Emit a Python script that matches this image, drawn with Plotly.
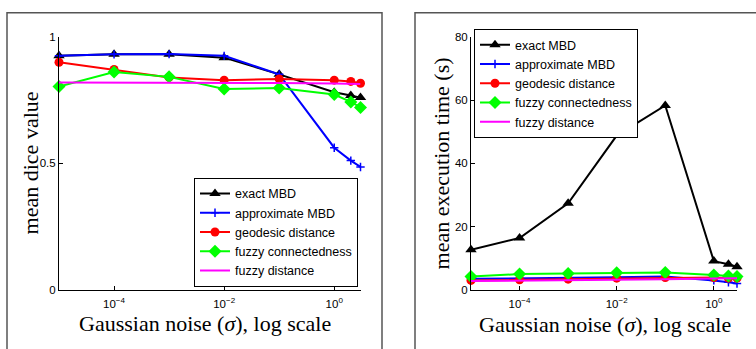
import plotly.graph_objects as go
import math

# ---- data ----
noise = [1e-5, 1e-4, 1e-3, 1e-2, 1e-1, 1, 2, 3]
series_names = ["exact MBD", "approximate MBD", "geodesic distance",
                "fuzzy connectedness", "fuzzy distance"]

dice_exact = [0.925, 0.931, 0.931, 0.918, 0.852, 0.781, 0.768, 0.760]
dice_approx = [0.925, 0.931, 0.932, 0.925, 0.852, 0.562, 0.511, 0.486]
dice_geodesic = [0.900, 0.871, 0.840, 0.829, 0.834, 0.829, 0.824, 0.817]
dice_fuzzyconn = [0.804, 0.861, 0.842, 0.794, 0.798, 0.772, 0.743, 0.721]
dice_fuzzydist = [0.820, 0.820, 0.820, 0.819, 0.818, 0.816, 0.815, 0.814]

time_exact = [12.7, 16.4, 27.4, 48.8, 58.3, 9.1, 8.1, 7.3]
time_approx = [3.5, 3.6, 3.8, 4.0, 4.2, 3.0, 2.4, 2.0]
time_geodesic = [3.0, 3.2, 3.4, 3.7, 3.9, 3.9, 3.7, 3.7]
time_fuzzyconn = [4.2, 5.0, 5.2, 5.4, 5.5, 4.7, 4.4, 4.2]
time_fuzzydist = [2.8, 2.9, 3.0, 3.1, 3.4, 3.6, 3.6, 3.7]

dice_tickvals = [0, 0.5, 1]
dice_ticktext = ["0", "0.5", "1"]
time_tickvals = [0, 20, 40, 60, 80]
x_tickvals = [1e-4, 1e-2, 1]
x_ticktext = ["10<sup>−4</sup>", "10<sup>−2</sup>", "10<sup>0</sup>"]

# ---- styles ----
W, H = 756, 349
styles = [
    dict(color="#000000", symbol="triangle-up", size=10, mode="lines+markers"),
    dict(color="#0000ff", symbol="cross-thin", size=6, mode="lines+markers"),
    dict(color="#ff0000", symbol="circle", size=9, mode="lines+markers"),
    dict(color="#00ff00", symbol="diamond", size=10, mode="lines+markers"),
    dict(color="#ff00ff", symbol="circle", size=1, mode="lines"),
]

fig = go.Figure()

def add_panel(ys, xa, ya, legend):
    for name, y, st in zip(series_names, ys, styles):
        marker = dict(color=st["color"], symbol=st["symbol"], size=st["size"],
                      line=dict(color=st["color"], width=1.5 if st["symbol"] == "cross-thin" else 0))
        fig.add_trace(go.Scatter(
            x=noise, y=y, name=name, mode=st["mode"], xaxis=xa, yaxis=ya,
            line=dict(color=st["color"], width=2), marker=marker,
            legend=legend, cliponaxis=False))

add_panel([dice_exact, dice_approx, dice_geodesic, dice_fuzzyconn, dice_fuzzydist],
          "x", "y", "legend")
add_panel([time_exact, time_approx, time_geodesic, time_fuzzyconn, time_fuzzydist],
          "x2", "y2", "legend2")

tickfont = dict(family="Liberation Sans, Arial, sans-serif", size=11.5, color="black")
ydom = [(H - 294) / H, (H - 32) / H]
xcommon = dict(type="log", range=[-5, math.log10(3)], tickvals=x_tickvals,
               ticktext=x_ticktext, ticks="inside", ticklen=4, tickcolor="black",
               showline=True, linecolor="black", linewidth=1, showgrid=False,
               zeroline=False, tickfont=tickfont, ticklabelstandoff=3)
ycommon = dict(ticks="inside", ticklen=4, tickcolor="black", showline=True,
               linecolor="black", linewidth=1, showgrid=False, zeroline=False,
               tickfont=tickfont, domain=ydom)

legfont = dict(family="Liberation Sans, Arial, sans-serif", size=12.5, color="black")
fig.update_layout(
    width=W, height=H, autosize=False,
    margin=dict(l=0, r=0, t=0, b=0),
    paper_bgcolor="white", plot_bgcolor="white",
    showlegend=True,
    xaxis=dict(domain=[59 / W, 360.5 / W], anchor="y", **xcommon),
    yaxis=dict(range=[0, 1], tickvals=dice_tickvals, ticktext=dice_ticktext,
               anchor="x", **ycommon),
    xaxis2=dict(domain=[471 / W, 737 / W], anchor="y2", **xcommon),
    yaxis2=dict(range=[0, 80], tickvals=time_tickvals, anchor="x2", **ycommon),
    legend=dict(x=194 / W, y=(H - 178) / H, xanchor="left", yanchor="top",
                bgcolor="white", bordercolor="black", borderwidth=1,
                font=legfont, tracegroupgap=0, itemwidth=30),
    legend2=dict(x=474 / W, y=(H - 24) / H, xanchor="left", yanchor="top",
                 bgcolor="white", bordercolor="black", borderwidth=1,
                 font=legfont, tracegroupgap=0, itemwidth=30),
)

titlefont = dict(family="Liberation Serif, Times New Roman, serif", size=22, color="black")
annos = [
    dict(text="mean dice value", x=30 / W, y=(H - 163) / H, textangle=-90),
    dict(text="mean execution time (s)", x=441 / W, y=(H - 163) / H, textangle=-90),
    dict(text="Gaussian noise (<i>σ</i>), log scale", x=204.5 / W, y=(H - 329) / H, textangle=0),
    dict(text="Gaussian noise (<i>σ</i>), log scale", x=604.5 / W, y=(H - 330) / H, textangle=0),
]
for a in annos:
    fig.add_annotation(xref="paper", yref="paper", showarrow=False,
                       xanchor="center", yanchor="middle", font=titlefont, **a)

# panel frames
framecol = "#555555"
fig.add_shape(type="rect", xref="paper", yref="paper",
              x0=7 / W, x1=382 / W, y0=-0.1, y1=(H - 7) / H,
              line=dict(color=framecol, width=1.5), fillcolor="rgba(0,0,0,0)", layer="below")
fig.add_shape(type="rect", xref="paper", yref="paper",
              x0=415 / W, x1=1.1, y0=-0.1, y1=(H - 7) / H,
              line=dict(color=framecol, width=1.5), fillcolor="rgba(0,0,0,0)", layer="below")

fig.write_html("out.html")
